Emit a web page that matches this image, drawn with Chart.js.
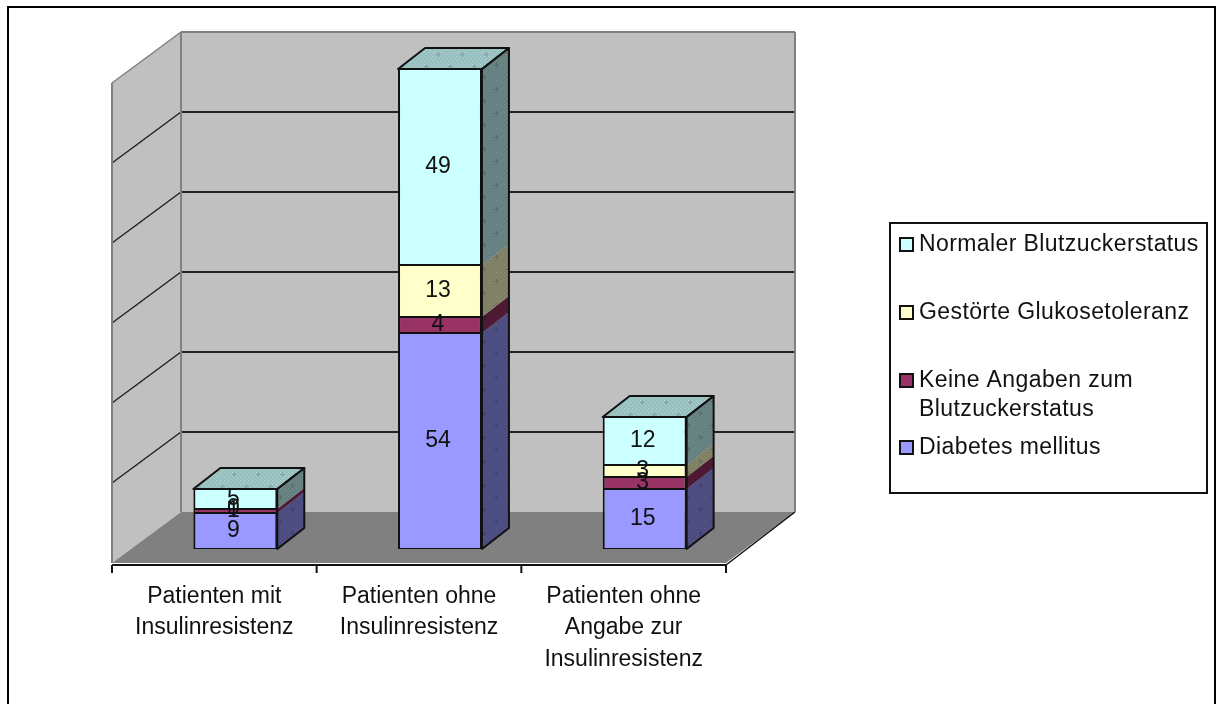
<!DOCTYPE html>
<html lang="de">
<head>
<meta charset="utf-8">
<title>Blutzuckerstatus nach Insulinresistenz</title>
<style>
html,body{margin:0;padding:0;background:#fff;}
canvas{display:block;}
</style>
<script src="https://cdn.jsdelivr.net/npm/chart.js@4"></script>
</head>
<body>
<canvas id="chart" width="1217" height="704"></canvas>
<script>
// Categories and stacked series, bottom segment first
const categories = [
  ['Patienten mit', 'Insulinresistenz'],
  ['Patienten ohne', 'Insulinresistenz'],
  ['Patienten ohne', 'Angabe zur', 'Insulinresistenz']
];
const diabetesMellitus = [9, 54, 15];
const keineAngaben = [1, 4, 3];
const gestoerteGlukosetoleranz = [0, 13, 3];
const normalerStatus = [5, 49, 12];

const seriesNames = ['Diabetes mellitus', 'Keine Angaben zum Blutzuckerstatus', 'Gestörte Glukosetoleranz', 'Normaler Blutzuckerstatus'];
const seriesColors = ['#9999FF', '#993366', '#FFFFCC', '#CCFFFF'];

const FONT = '23px "Liberation Sans", Arial, sans-serif';

// Offsets of the 3D box relative to the plane the bars stand in
const BACK = {x: 48, y: -37};
const FRONT = {x: -21, y: 14};
const BAR_DEPTH = {x: 27, y: -21};

function shade(hex, f) {
  const n = parseInt(hex.slice(1), 16);
  return `rgb(${((n >> 16) & 255) * f | 0},${((n >> 8) & 255) * f | 0},${(n & 255) * f | 0})`;
}

// Fine dither with a faint cross motif, as used on the shaded box faces
function dither(hex, f, cross) {
  const c = document.createElement('canvas');
  c.width = c.height = 24;
  const g = c.getContext('2d');
  g.fillStyle = shade(hex, f);
  g.fillRect(0, 0, 24, 24);
  g.fillStyle = shade(hex, Math.min(1, f * 1.14));
  for (let y = 0; y < 24; y += 2) {
    for (let x = 0; x < 24; x += 2) {
      if ((x + y) % 4 === 0) g.fillRect(x, y, 1, 1);
    }
  }
  g.fillStyle = shade(hex, f * 0.86);
  for (const [x, y] of cross) {
    g.fillRect(x - 2, y, 5, 1);
    g.fillRect(x, y - 2, 1, 5);
  }
  return g.createPattern(c, 'repeat');
}

function poly(ctx, pts, fill, stroke, lw) {
  ctx.beginPath();
  pts.forEach((p, i) => i ? ctx.lineTo(p[0], p[1]) : ctx.moveTo(p[0], p[1]));
  ctx.closePath();
  if (fill) { ctx.fillStyle = fill; ctx.fill(); }
  if (stroke) { ctx.strokeStyle = stroke; ctx.lineWidth = lw; ctx.lineJoin = 'round'; ctx.stroke(); }
}

function line(ctx, x1, y1, x2, y2, color, lw) {
  ctx.beginPath();
  ctx.moveTo(x1, y1);
  ctx.lineTo(x2, y2);
  ctx.strokeStyle = color;
  ctx.lineWidth = lw;
  ctx.stroke();
}

// White page with the outer frame
const framePlugin = {
  id: 'frame',
  beforeDraw(chart) {
    const ctx = chart.ctx;
    ctx.save();
    ctx.fillStyle = '#fff';
    ctx.fillRect(0, 0, chart.width, chart.height);
    ctx.fillStyle = '#000';
    ctx.fillRect(7, 6, 1209, 2);
    ctx.fillRect(7, 6, 2, chart.height);
    ctx.fillRect(1214, 6, 2, chart.height);
    ctx.restore();
  }
};

// Side wall, back wall and floor, with gridlines taken from the value scale
const boxPlugin = {
  id: 'box',
  beforeDatasetsDraw(chart) {
    const ctx = chart.ctx;
    const {left, right, top, bottom} = chart.chartArea;
    const yScale = chart.scales.y;
    const bx1 = left + BACK.x, bx2 = right + BACK.x, by1 = top + BACK.y, by2 = bottom + BACK.y;
    const fx1 = left + FRONT.x, fx2 = right + FRONT.x, fy1 = top + FRONT.y, fy2 = bottom + FRONT.y;
    ctx.save();
    poly(ctx, [[bx1, by1], [bx2, by1], [bx2, by2], [bx1, by2]], '#C0C0C0');
    poly(ctx, [[fx1, fy1], [bx1, by1], [bx1, by2], [fx1, fy2]], '#C0C0C0');
    yScale.ticks.forEach(t => {
      const py = yScale.getPixelForValue(t.value);
      if (t.value === 0 || t.value === yScale.max) return;
      line(ctx, bx1, py + BACK.y, bx2, py + BACK.y, '#222', 2);
      line(ctx, fx1, py + FRONT.y, bx1, py + BACK.y, '#222', 1.5);
    });
    poly(ctx, [[fx1, fy2], [bx1, by2], [bx2, by2], [fx2, fy2]], '#808080');
    line(ctx, fx1, fy1, bx1, by1, '#808080', 1.5);
    line(ctx, bx1, by1, bx2, by1, '#808080', 2);
    line(ctx, bx1, by1, bx1, by2, '#808080', 2);
    line(ctx, bx2, by1, bx2, by2, '#808080', 2);
    line(ctx, fx1, fy1, fx1, fy2, '#808080', 2);
    line(ctx, bx2, by2, fx2, fy2 + 2, '#111', 1.5);
    // category axis with boundary ticks
    line(ctx, fx1, fy2 + 2, fx2, fy2 + 2, '#111', 2);
    const n = chart.data.labels.length;
    for (let i = 0; i <= n; i++) {
      const tx = fx1 + (fx2 - fx1) * i / n;
      line(ctx, tx, fy2 + 2, tx, fy2 + 10, '#111', 2);
    }
    // depth faces of each stacked bar
    const sides = seriesColors.map(c => dither(c, 0.5, [[4, 5], [16, 17]]));
    const tops = seriesColors.map(c => dither(c, 0.75, [[6, 6], [18, 18]]));
    const d = BAR_DEPTH;
    for (let j = 0; j < n; j++) {
      let first = null, last = null;
      chart.data.datasets.forEach((ds, i) => {
        const el = chart.getDatasetMeta(i).data[j];
        const xr = el.x + el.width / 2;
        if (ds.data[j] > 0) {
          poly(ctx, [[xr, el.y], [xr + d.x, el.y + d.y], [xr + d.x, el.base + d.y], [xr, el.base]], sides[i]);
          first = first || el;
          last = {el, i};
        }
      });
      const e = last.el;
      const xl = e.x - e.width / 2, xr = e.x + e.width / 2;
      poly(ctx, [[xl, e.y], [xl + d.x, e.y + d.y], [xr + d.x, e.y + d.y], [xr, e.y]], tops[last.i], '#111', 2);
      poly(ctx, [[xr, e.y], [xr + d.x, e.y + d.y], [xr + d.x, first.base + d.y], [xr, first.base]], null, '#111', 2);
    }
    ctx.restore();
  }
};

// Value labels at the centre of each segment
const valueLabelPlugin = {
  id: 'valueLabels',
  afterDatasetsDraw(chart) {
    const ctx = chart.ctx;
    ctx.save();
    ctx.font = FONT;
    ctx.fillStyle = '#111';
    ctx.textAlign = 'center';
    ctx.textBaseline = 'middle';
    chart.data.datasets.forEach((ds, i) => {
      chart.getDatasetMeta(i).data.forEach((el, j) => {
        const c = el.getCenterPoint();
        ctx.fillText(String(ds.data[j]), c.x - 2, c.y);
      });
    });
    ctx.restore();
  }
};

// Boxed legend, listed top segment first, with its long entry on two lines
const legendPlugin = {
  id: 'boxedLegend',
  afterDraw(chart) {
    const ctx = chart.ctx;
    const rows = [
      {i: 3, y: 245, lines: [seriesNames[3]]},
      {i: 2, y: 313, lines: [seriesNames[2]]},
      {i: 1, y: 381, lines: ['Keine Angaben zum', 'Blutzuckerstatus']},
      {i: 0, y: 448, lines: [seriesNames[0]]}
    ];
    ctx.save();
    ctx.fillStyle = '#fff';
    ctx.fillRect(890, 223, 317, 270);
    ctx.strokeStyle = '#111';
    ctx.lineWidth = 2;
    ctx.strokeRect(890, 223, 317, 270);
    ctx.font = FONT;
    ctx.letterSpacing = '0.4px';
    ctx.textBaseline = 'middle';
    rows.forEach(r => {
      ctx.fillStyle = seriesColors[r.i];
      ctx.fillRect(900, r.y - 7, 13, 13);
      ctx.strokeRect(900, r.y - 7, 13, 13);
      ctx.fillStyle = '#111';
      r.lines.forEach((t, k) => ctx.fillText(t, 919, r.y + k * 29));
    });
    ctx.restore();
  }
};

const values = [diabetesMellitus, keineAngaben, gestoerteGlukosetoleranz, normalerStatus];

new Chart(document.getElementById('chart'), {
  type: 'bar',
  data: {
    labels: categories,
    datasets: values.map((data, i) => ({
      label: seriesNames[i],
      data,
      backgroundColor: seriesColors[i],
      borderColor: '#111',
      borderWidth: {left: 2, right: 2, top: 1, bottom: 1},
      borderSkipped: false,
      barPercentage: 0.41,
      categoryPercentage: 1
    }))
  },
  options: {
    responsive: false,
    animation: false,
    layout: {padding: {left: 133, top: 69, right: 470, bottom: 0}},
    plugins: {legend: {display: false}, tooltip: {enabled: false}},
    scales: {
      x: {
        stacked: true,
        grid: {display: false},
        border: {display: false},
        afterFit(s) { s.height = 155; },
        ticks: {
          autoSkip: false,
          maxRotation: 0,
          minRotation: 0,
          padding: 24,
          labelOffset: -21,
          color: '#111',
          font: {family: '"Liberation Sans", Arial, sans-serif', size: 23, lineHeight: 1.36}
        }
      },
      y: {
        stacked: true,
        min: 0,
        max: 120,
        grid: {display: false},
        border: {display: false},
        afterFit(s) { s.width = 0; },
        ticks: {display: false, stepSize: 20}
      }
    }
  },
  plugins: [framePlugin, boxPlugin, valueLabelPlugin, legendPlugin]
});
</script>
</body>
</html>
